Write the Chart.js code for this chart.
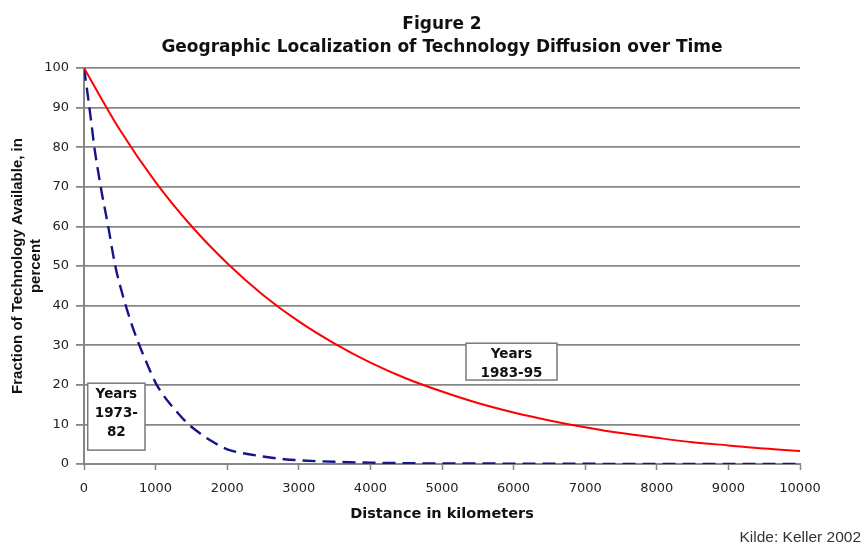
<!DOCTYPE html>
<html>
<head>
<meta charset="utf-8">
<script src="https://cdn.jsdelivr.net/npm/chart.js@4.4.1/dist/chart.umd.min.js"></script>
<style>
html,body{margin:0;padding:0;background:#ffffff;}
#c{display:block;}
</style>
</head>
<body>
<canvas id="c" width="865" height="545"></canvas>
<script>
// ---- texts ----
const titleLines = ['Figure 2', 'Geographic Localization of Technology Diffusion over Time'];
const xAxisTitle = 'Distance in kilometers';
const yAxisTitle = ['Fraction of Technology Available, in', 'percent'];
const sourceNote = 'Kilde: Keller 2002';
const seriesNames = ['Years 1983-95', 'Years 1973-82'];
const boxTexts = [['Years', '1983-95'], ['Years', '1973-', '82']];

// ---- tick values ----
const xTicks = [0, 1000, 2000, 3000, 4000, 5000, 6000, 7000, 8000, 9000, 10000];
const yTicks = [0, 10, 20, 30, 40, 50, 60, 70, 80, 90, 100];

// ---- series: Years 1983-95 (solid red) ----
const redKm  = [0, 500, 1000, 1500, 2000, 2500, 3000, 3500, 4000, 4500, 5000,
                5500, 6000, 6500, 7000, 7500, 8000, 8500, 9000, 9500, 10000];
const redPct = [100, 84.4, 71.2, 60.1, 50.7, 42.7, 36.0, 30.4, 25.6, 21.6, 18.3,
                15.4, 13.0, 11.0, 9.3, 7.8, 6.6, 5.5, 4.7, 3.9, 3.3];

// ---- series: Years 1973-82 (dashed blue) ----
const blueKm  = [0, 50, 100, 150, 200, 250, 300, 350, 400, 450, 500, 600, 700, 800, 900,
                 1000, 1100, 1200, 1300, 1400, 1500, 1600, 1800, 2000, 2200, 2500, 2800,
                 3000, 3500, 4000, 4500, 5000, 6000, 7000, 8000, 9000, 10000];
const bluePct = [100, 93.5, 86.5, 79.3, 73.6, 68.3, 63.6, 58.8, 53.5, 48.9, 45.3, 39.0, 33.5, 28.8, 24.5,
                 20.5, 17.6, 15.2, 13.1, 11.1, 9.4, 8.0, 5.6, 3.7, 2.8, 1.9, 1.2,
                 0.95, 0.55, 0.35, 0.2, 0.15, 0.1, 0.05, 0.03, 0.02, 0.01];

const GRID = '#868686';
const SANS = '"DejaVu Sans", "Liberation Sans", Arial, sans-serif';
const ARIAL = '"Liberation Sans", Arial, sans-serif';

const pts = (xs, ys) => xs.map((x, i) => ({x: x, y: ys[i]}));

const titlePlugin = {
  id: 'figTitle',
  beforeDraw(chart) {
    const ctx = chart.ctx;
    ctx.save();
    ctx.fillStyle = '#ffffff';
    ctx.fillRect(0, 0, chart.width, chart.height);
    ctx.restore();
  },
  afterDraw(chart) {
    const ctx = chart.ctx;
    const ca = chart.chartArea;
    const cx = (ca.left + ca.right) / 2;
    ctx.save();
    ctx.fillStyle = '#111111';
    ctx.textAlign = 'center';
    ctx.textBaseline = 'alphabetic';
    ctx.font = 'bold 17px ' + SANS;
    ctx.fillText(titleLines[0], cx, 29);
    ctx.fillText(titleLines[1], cx, 51.5);
    ctx.font = '15.5px ' + ARIAL;
    ctx.fillStyle = '#333333';
    ctx.textAlign = 'right';
    ctx.fillText(sourceNote, 861, 542);
    ctx.restore();
  }
};

const boxPlugin = {
  id: 'labelBoxes',
  afterDatasetsDraw(chart, args, opts) {
    const ctx = chart.ctx;
    const xs = chart.scales.x, ys = chart.scales.y;
    opts.items.forEach(b => {
      const l = xs.getPixelForValue(b.x0), r = xs.getPixelForValue(b.x1);
      const t = ys.getPixelForValue(b.y0), bt = ys.getPixelForValue(b.y1);
      ctx.save();
      ctx.fillStyle = '#ffffff';
      ctx.fillRect(l, t, r - l, bt - t);
      ctx.strokeStyle = '#7a7a7a';
      ctx.lineWidth = 1.5;
      ctx.strokeRect(l, t, r - l, bt - t);
      ctx.fillStyle = '#111111';
      ctx.font = 'bold 13.5px ' + SANS;
      ctx.textAlign = 'center';
      ctx.textBaseline = 'middle';
      b.lines.forEach((s, i) => ctx.fillText(s, (l + r) / 2, t + 11 + i * 19.3));
      ctx.restore();
    });
  }
};

new Chart(document.getElementById('c'), {
  type: 'line',
  data: {
    datasets: [
      {
        label: seriesNames[0],
        data: pts(redKm, redPct),
        borderColor: '#ff0000',
        borderWidth: 2,
        pointRadius: 0,
        fill: false,
        cubicInterpolationMode: 'monotone'
      },
      {
        label: seriesNames[1],
        data: pts(blueKm, bluePct),
        borderColor: '#15158a',
        borderWidth: 2.4,
        borderDash: [13, 7],
        pointRadius: 0,
        fill: false,
        cubicInterpolationMode: 'monotone'
      }
    ]
  },
  options: {
    responsive: false,
    animation: false,
    devicePixelRatio: 1,
    parsing: false,
    layout: { padding: { top: 68, right: 65, left: 0, bottom: 0 } },
    plugins: {
      legend: { display: false },
      tooltip: { enabled: false },
      title: { display: false },
      labelBoxes: {
        items: [
          { x0: 5335, x1: 6606, y0: 30.5, y1: 21.2, lines: boxTexts[0] },
          { x0: 52, x1: 852, y0: 20.4, y1: 3.5, lines: boxTexts[1] }
        ]
      }
    },
    scales: {
      x: {
        type: 'linear',
        min: 0, max: 10000,
        afterBuildTicks: s => { s.ticks = xTicks.map(v => ({ value: v })); },
        afterFit: s => { s.height = 81; },
        ticks: {
          callback: v => String(v),
          font: { family: SANS, size: 13 },
          color: '#222222',
          padding: 11,
          maxRotation: 0,
          autoSkip: false
        },
        grid: {
          drawOnChartArea: false,
          drawTicks: true,
          tickLength: 6,
          tickColor: GRID,
          tickWidth: 1.5,
          color: GRID
        },
        border: { display: true, color: GRID, width: 2 },
        title: {
          display: true,
          text: xAxisTitle,
          font: { family: SANS, size: 14.5, weight: 'bold' },
          color: '#111111',
          padding: { top: 22, bottom: 22 }
        }
      },
      y: {
        type: 'linear',
        min: 0, max: 100,
        afterBuildTicks: s => { s.ticks = yTicks.map(v => ({ value: v })); },
        afterFit: s => { s.width = 84; },
        ticks: {
          callback: v => String(v),
          font: { family: SANS, size: 13 },
          color: '#222222',
          padding: 7
        },
        grid: {
          color: GRID,
          lineWidth: 1.8,
          drawTicks: true,
          tickLength: 8,
          tickColor: GRID
        },
        border: { display: true, color: GRID, width: 2 },
        title: {
          display: true,
          text: yAxisTitle,
          font: { family: ARIAL, size: 15, weight: 'bold', lineHeight: 1.2 },
          color: '#111111',
          padding: { top: 9, bottom: 9 }
        }
      }
    }
  },
  plugins: [titlePlugin, boxPlugin]
});
</script>
</body>
</html>
